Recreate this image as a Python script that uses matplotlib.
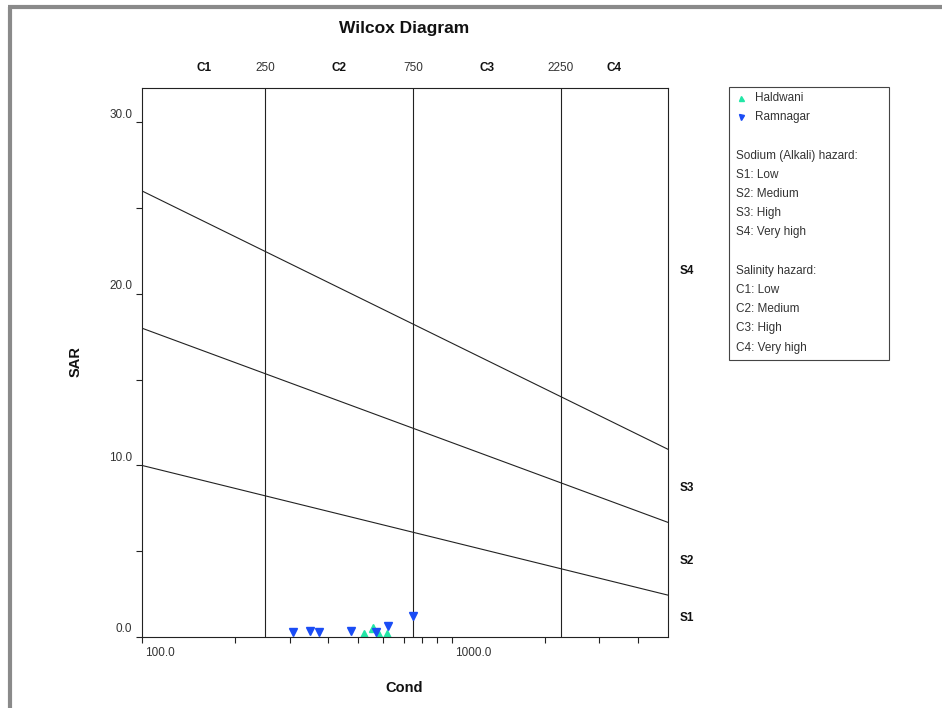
import matplotlib
matplotlib.use('Agg')
import matplotlib.pyplot as plt
import numpy as np
from matplotlib.transforms import ScaledTranslation, blended_transform_factory
from matplotlib.lines import Line2D
from matplotlib.patches import Rectangle
from matplotlib.ticker import FixedLocator, NullFormatter

plt.rcParams['font.family'] = ['Liberation Sans', 'DejaVu Sans']

# ---------------- data ----------------
haldwani_cond = [523, 556, 583, 618]
haldwani_sar = [0.19, 0.52, 0.13, 0.17]
ramnagar_cond = [308, 348, 372, 473, 569, 625, 752]
ramnagar_sar = [0.29, 0.33, 0.29, 0.33, 0.29, 0.66, 1.2]

# sodium hazard boundaries (SAR at EC=100 and EC=5000)
boundary_sar_at_100 = [10.0, 18.0, 26.0]
boundary_sar_at_5000 = [2.44, 6.68, 10.94]
# salinity class boundaries
salinity_bounds = [250, 750, 2250]
salinity_edges = [100, 250, 750, 2250, 5000]
salinity_names = ['C1', 'C2', 'C3', 'C4']
sodium_names = ['S1', 'S2', 'S3', 'S4']

legend_series = ['Haldwani', 'Ramnagar']
legend_lines = ['', 'Sodium (Alkali) hazard:', 'S1: Low', 'S2: Medium', 'S3: High',
                'S4: Very high', '', 'Salinity hazard:', 'C1: Low', 'C2: Medium',
                'C3: High', 'C4: Very high']

xlim = (100, 5000)
ylim = (0, 32)

col_h = '#22e6a6'
col_r = '#1a4cf5'
line_col = '#222222'
txt_col = '#333333'

W, H = 942, 708
fig = plt.figure(figsize=(W / 100, H / 100), dpi=100)
ax = fig.add_axes([142 / W, 1 - 637 / H, (668 - 142) / W, (637 - 88) / H])
ax.set_xscale('log')
ax.set_xlim(*xlim)
ax.set_ylim(*ylim)

for lo, hi in zip(boundary_sar_at_100, boundary_sar_at_5000):
    ax.plot([xlim[0], xlim[1]], [lo, hi], color=line_col, lw=0.8)
for b in salinity_bounds:
    ax.axvline(b, color=line_col, lw=0.8)

ax.plot(haldwani_cond, haldwani_sar, linestyle='none', marker='^', ms=6.3,
        color=col_h, mec=col_h)
ax.plot(ramnagar_cond, ramnagar_sar, linestyle='none', marker='v', ms=6.3,
        color=col_r, mec=col_r)

# axes styling
for s in ax.spines.values():
    s.set_color(line_col)
    s.set_linewidth(0.8)

ax.xaxis.set_major_locator(FixedLocator([100, 1000]))
ax.xaxis.set_minor_locator(FixedLocator([200, 300, 400, 500, 600, 700, 800, 900,
                                         2000, 3000, 4000]))
ax.xaxis.set_minor_formatter(NullFormatter())
ax.set_xticklabels(['100.0', '1000.0'])
ax.yaxis.set_major_locator(FixedLocator([0, 10, 20, 30]))
ax.yaxis.set_minor_locator(FixedLocator([5, 15, 25]))
ax.set_yticklabels(['0.0', '10.0', '20.0', '30.0'])
ax.tick_params(which='both', length=4, width=0.8, direction='out', color=line_col)
ax.tick_params(axis='both', labelsize=8.5, labelcolor=txt_col, pad=3)

for lbl in ax.get_xticklabels():
    lbl.set_ha('left')
    lbl.set_transform(lbl.get_transform() + ScaledTranslation(3 / 100, 0, fig.dpi_scale_trans))
for lbl in ax.get_yticklabels():
    lbl.set_transform(lbl.get_transform() + ScaledTranslation(0, 9 / 100, fig.dpi_scale_trans))

# top salinity labels
tr_top = blended_transform_factory(ax.transData, ax.transAxes)
for i, name in enumerate(salinity_names):
    xm = np.sqrt(salinity_edges[i] * salinity_edges[i + 1])
    ax.text(xm, 1.0, name, transform=tr_top + ScaledTranslation(0, 20 / 100, fig.dpi_scale_trans),
            ha='center', va='center', fontsize=8.5, fontweight='bold', color='#111111')
for b in salinity_bounds:
    ax.text(b, 1.0, str(b), transform=tr_top + ScaledTranslation(0, 20 / 100, fig.dpi_scale_trans),
            ha='center', va='center', fontsize=8.5, color=txt_col)

# right sodium labels (midpoints between boundaries at right edge)
right_vals = [ylim[0]] + boundary_sar_at_5000 + [ylim[1]]
tr_right = blended_transform_factory(ax.transAxes, ax.transData)
for i, name in enumerate(sodium_names):
    ym = (right_vals[i] + right_vals[i + 1]) / 2
    ax.text(1.0, ym, name, transform=tr_right + ScaledTranslation(12 / 100, -2 / 100, fig.dpi_scale_trans),
            ha='left', va='center', fontsize=8.5, fontweight='bold', color='#111111')

fig.text(404 / W, 1 - 28 / H, 'Wilcox Diagram', ha='center', va='center',
         fontsize=12.5, fontweight='bold', color='#111111')
fig.text(76 / W, 1 - 362 / H, 'SAR', ha='center', va='center', rotation=90,
         fontsize=10.5, fontweight='bold', color='#111111')
fig.text(404 / W, 1 - 688 / H, 'Cond', ha='center', va='center',
         fontsize=10.5, fontweight='bold', color='#111111')

# legend box (manual)
fig.add_artist(Rectangle((729 / W, 1 - 360 / H), 160 / W, 273 / H, transform=fig.transFigure,
                         fill=False, edgecolor='#444444', lw=0.8))
row0 = 98
dy = 19.2
markers = ['^', 'v']
cols = [col_h, col_r]
for i, name in enumerate(legend_series):
    y = 1 - (row0 + i * dy) / H
    fig.add_artist(Line2D([741 / W], [y], transform=fig.transFigure, marker=markers[i],
                          ms=3.6, color=cols[i], linestyle='none'))
    fig.text(755 / W, y, name, ha='left', va='center', fontsize=8.5, color=txt_col)
for j, line in enumerate(legend_lines):
    if not line:
        continue
    y = 1 - (row0 + (j + 2) * dy) / H
    fig.text(736 / W, y, line, ha='left', va='center', fontsize=8.5, color=txt_col)

# page border (gray) on left and top
fig.add_artist(Line2D([10 / W, 10 / W], [0, 1 - 7 / H], transform=fig.transFigure,
                      color='#8a8a8a', lw=3, solid_capstyle='butt'))
fig.add_artist(Line2D([8 / W, 1], [1 - 7 / H, 1 - 7 / H], transform=fig.transFigure,
                      color='#8a8a8a', lw=3, solid_capstyle='butt'))

fig.savefig('out.png', dpi=100)
